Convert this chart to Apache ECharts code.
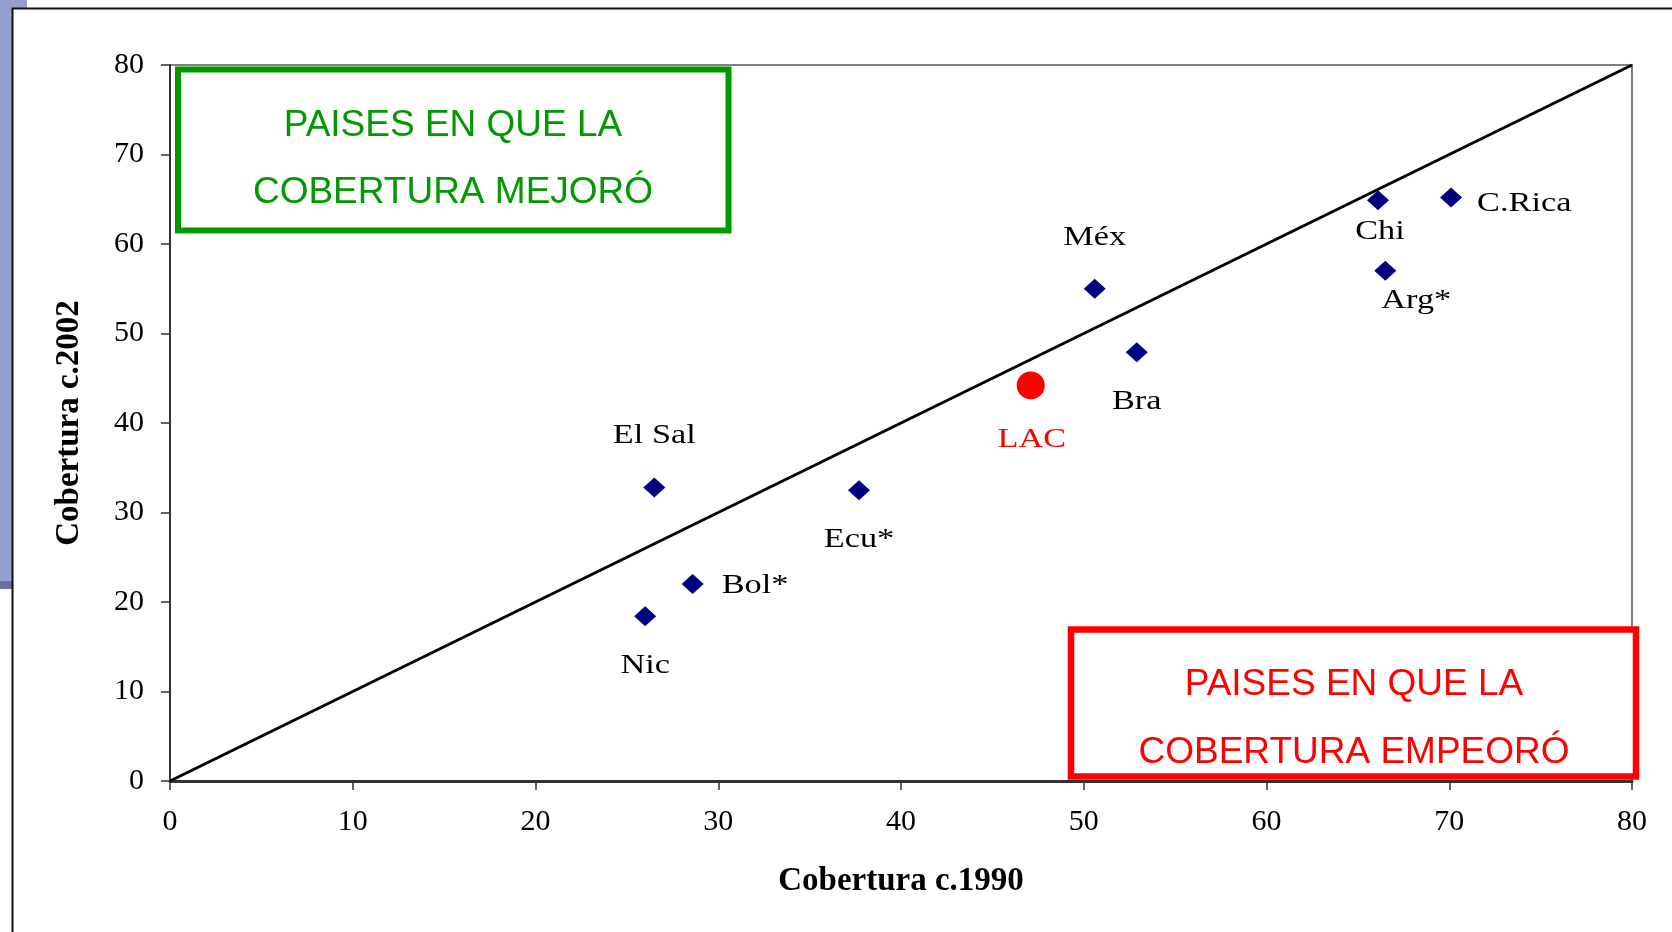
<!DOCTYPE html>
<html>
<head>
<meta charset="utf-8">
<script src="https://cdn.jsdelivr.net/npm/echarts@6/dist/echarts.min.js"></script>
<style>
html,body{margin:0;padding:0;background:#fff;}
#chart{width:1672px;height:932px;}
</style>
</head>
<body>
<div id="chart"></div>
<script>
// ---- data ----
const countries = ['El Sal', 'Nic', 'Bol*', 'Ecu*', 'Méx', 'Bra', 'Chi', 'Arg*', 'C.Rica'];
const cov1990 = [26.5, 26.0, 28.6, 37.7, 50.6, 52.9, 66.1, 66.5, 70.1];
const cov2002 = [32.8, 18.4, 22.0, 32.5, 55.0, 47.9, 64.9, 57.0, 65.2];
const lacName = ['LAC'];
const lac1990 = [47.1];
const lac2002 = [44.2];
const refLineX = [0, 80];
const refLineY = [0, 80];
const axisTicks = [0, 10, 20, 30, 40, 50, 60, 70, 80];
const xTitle = 'Cobertura c.1990';
const yTitle = 'Cobertura c.2002';
const boxGreen = ['PAISES EN QUE LA', 'COBERTURA MEJORÓ'];
const boxRed = ['PAISES EN QUE LA', 'COBERTURA EMPEORÓ'];

// ---- label placement (style, not data): pixel offset of label anchor from marker, alignment ----
const labelPlace = {
  'El Sal': {dx: 0,  dy: -52, align: 'center'},
  'Nic':    {dx: 0,  dy: 50,  align: 'center'},
  'Bol*':   {dx: 29, dy: 2,   align: 'left'},
  'Ecu*':   {dx: 0,  dy: 50,  align: 'center'},
  'Méx':    {dx: 0,  dy: -51, align: 'center'},
  'Bra':    {dx: 0,  dy: 50,  align: 'center'},
  'Chi':    {dx: 2,  dy: 32,  align: 'center'},
  'Arg*':   {dx: 31, dy: 30,  align: 'center'},
  'C.Rica': {dx: 26, dy: 6,   align: 'left'},
  'LAC':    {dx: 1,  dy: 54,  align: 'center'}
};

const serif = '"Liberation Serif", "Times New Roman", serif';
const sans = '"Liberation Sans", Arial, sans-serif';
const labelFont = '27px ' + serif;
const labelStretch = 1.27;

const allNames = countries.concat(lacName);
const allX = cov1990.concat(lac1990);
const allY = cov2002.concat(lac2002);
const labelColors = countries.map(() => '#000').concat(lacName.map(() => '#ff0000'));

function renderLabel(params, api) {
  const i = params.dataIndex;
  const name = allNames[i];
  const p = api.coord([api.value(0), api.value(1)]);
  const pl = labelPlace[name];
  return {
    type: 'text',
    x: p[0] + pl.dx,
    y: p[1] + pl.dy,
    scaleX: labelStretch,
    style: {
      x: 0, y: 0,
      text: name,
      font: labelFont,
      fill: labelColors[i],
      textAlign: pl.align,
      textVerticalAlign: 'middle'
    }
  };
}

const axisCommon = {
  type: 'value', min: axisTicks[0], max: axisTicks[axisTicks.length - 1], interval: axisTicks[1] - axisTicks[0],
  splitLine: {show: false},
  axisLine: {show: true, onZero: false, lineStyle: {color: '#333', width: 2}},
  axisTick: {show: true, inside: false, length: 9, lineStyle: {color: '#333', width: 1.5}},
  axisLabel: {color: '#000', fontFamily: serif, fontSize: 30, margin: 26},
  nameLocation: 'middle',
  nameGap: 84,
  nameTextStyle: {color: '#000', fontFamily: serif, fontSize: 33, fontWeight: 'bold'}
};

const option = {
  animation: false,
  backgroundColor: '#fff',
  grid: {left: 170, right: 40, top: 65, bottom: 151, show: true, borderColor: '#808080', borderWidth: 2, backgroundColor: 'transparent'},
  xAxis: Object.assign({}, axisCommon, {name: xTitle, axisLine: {show: true, onZero: false, lineStyle: {color: '#333', width: 3}}}),
  yAxis: Object.assign({}, axisCommon, {name: yTitle}),
  series: [
    {
      type: 'line',
      data: refLineX.map((x, i) => [x, refLineY[i]]),
      symbol: 'none',
      lineStyle: {color: '#000', width: 3},
      clip: false,
      z: 1,
      silent: true
    },
    {
      type: 'scatter',
      name: 'Países',
      data: countries.map((n, i) => ({name: n, value: [cov1990[i], cov2002[i]]})),
      symbol: 'diamond',
      symbolSize: [22, 20],
      itemStyle: {color: '#000080', opacity: 1},
      z: 3
    },
    {
      type: 'scatter',
      name: 'LAC',
      data: lacName.map((n, i) => ({name: n, value: [lac1990[i], lac2002[i]]})),
      symbol: 'circle',
      symbolSize: 28,
      itemStyle: {color: '#ff0000', opacity: 1},
      z: 3
    },
    {
      type: 'custom',
      name: 'labels',
      data: allNames.map((n, i) => ({name: n, value: [allX[i], allY[i]]})),
      renderItem: renderLabel,
      clip: false,
      silent: true,
      z: 4
    }
  ],
  graphic: [
    {type: 'rect', shape: {x: 0, y: 0, width: 27, height: 8}, style: {fill: '#949fcf'}, z: 0, silent: true},
    {type: 'rect', shape: {x: 0, y: 0, width: 12, height: 581}, style: {fill: '#949fcf'}, z: 0, silent: true},
    {type: 'rect', shape: {x: 0, y: 581, width: 12, height: 8}, style: {fill: '#6c6ca6'}, z: 0, silent: true},
    {type: 'polyline', shape: {points: [[12.5, 932], [12.5, 8.5], [1672, 8.5]]}, style: {stroke: '#111', lineWidth: 2, fill: null}, z: 1, silent: true},
    {type: 'rect', shape: {x: 178, y: 69.5, width: 550.5, height: 161}, style: {fill: '#fff', stroke: '#009900', lineWidth: 6}, z: 10, silent: true},
    {type: 'text', x: 453, y: 126, style: {text: boxGreen[0], fill: '#009900', font: '37px ' + sans, textAlign: 'center', textVerticalAlign: 'middle'}, z: 11, silent: true},
    {type: 'text', x: 453, y: 193, style: {text: boxGreen[1], fill: '#009900', font: '37px ' + sans, textAlign: 'center', textVerticalAlign: 'middle'}, z: 11, silent: true},
    {type: 'rect', shape: {x: 1071, y: 629.5, width: 565, height: 147}, style: {fill: '#fff', stroke: '#ff0000', lineWidth: 6.5}, z: 10, silent: true},
    {type: 'text', x: 1354, y: 685, style: {text: boxRed[0], fill: '#ff0000', font: '37px ' + sans, textAlign: 'center', textVerticalAlign: 'middle'}, z: 11, silent: true},
    {type: 'text', x: 1354, y: 753, style: {text: boxRed[1], fill: '#ff0000', font: '37px ' + sans, textAlign: 'center', textVerticalAlign: 'middle'}, z: 11, silent: true}
  ]
};

const chart = echarts.init(document.getElementById('chart'), null, {renderer: 'canvas'});
chart.setOption(option);
</script>
</body>
</html>
